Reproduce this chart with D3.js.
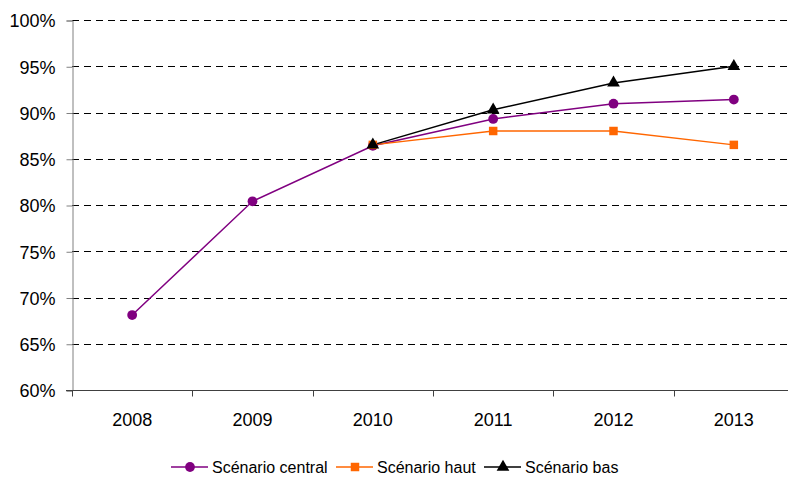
<!DOCTYPE html>
<html lang="fr">
<head>
  <meta charset="UTF-8">
  <title>Scénarios</title>
  <script src="https://d3js.org/d3.v7.min.js"></script>
  <style>
    *{ margin: 0; padding: 0; }
    body{ background: #fff; }
    svg text{ font-family: 'Liberation Sans', Arial, sans-serif; font-size: 18px; fill: #000; }
    .grid line{ stroke: #000; stroke-dasharray: 7,5; shape-rendering: crispEdges; }
    .legend text{ font-size: 16px; }
  </style>
</head>
<body>
  <svg width="788" height="477"></svg>
  <script>
    // données
    var years = ["2008", "2009", "2010", "2011", "2012", "2013"];
    var central = [68.1, 80.4, 86.4, 89.3, 90.95, 91.4];
    var haut = [null, null, 86.5, 88.0, 88.0, 86.5];
    var bas = [null, null, 86.5, 90.3, 93.2, 95.0];
    var yTicks = [60, 65, 70, 75, 80, 85, 90, 95, 100];

    var series = [
      {name: "Scénario central", values: central, color: "#800080", symbol: d3.symbolCircle, size: 75},
      {name: "Scénario haut", values: haut, color: "#ff6600", symbol: d3.symbolSquare, size: 72},
      {name: "Scénario bas", values: bas, color: "#000000", symbol: d3.symbolTriangle, size: 70}
    ];

    var svg = d3.select("svg");
    var pLeft = 72, pTop = 20, pBottom = 390, pRight = 794;

    var x = d3.scaleBand().domain(years).range([pLeft, pRight]);
    var y = d3.scaleLinear().domain([60, 100]).range([pBottom, pTop]);

    // grille
    svg.append("g").attr("class", "grid")
      .selectAll("line").data(yTicks.slice(1)).enter().append("line")
      .attr("x1", pLeft).attr("x2", 788)
      .attr("y1", function(d) { return Math.round(y(d)) + 0.5; })
      .attr("y2", function(d) { return Math.round(y(d)) + 0.5; });

    // axe y
    var yAxis = svg.append("g")
      .attr("transform", "translate(" + (pLeft + 0.5) + ",0.5)")
      .call(d3.axisLeft(y).tickValues(yTicks).tickSize(6).tickPadding(11)
        .tickFormat(function(d) { return d + "%"; }));
    yAxis.select(".domain").attr("stroke", "#808080");
    yAxis.selectAll(".tick line").attr("stroke", "#808080");
    yAxis.selectAll("text").attr("fill", "#000").attr("dy", "0.36em");

    // axe x
    var xAxis = svg.append("g")
      .attr("transform", "translate(0," + (pBottom + 0.5) + ")");
    xAxis.append("line").attr("x1", pLeft - 6).attr("x2", pRight)
      .attr("stroke", "#404040");
    xAxis.selectAll(".tk").data(years.concat(["end"])).enter().append("line")
      .attr("x1", function(d, i) { return Math.round(pLeft + i * x.bandwidth()) + 0.5; })
      .attr("x2", function(d, i) { return Math.round(pLeft + i * x.bandwidth()) + 0.5; })
      .attr("y1", 0).attr("y2", 6).attr("stroke", "#404040");
    xAxis.selectAll("text").data(years).enter().append("text")
      .attr("x", function(d) { return x(d) + x.bandwidth() / 2; })
      .attr("y", 35).attr("text-anchor", "middle").text(function(d) { return d; });

    // courbes
    var line = d3.line()
      .defined(function(d) { return d != null; })
      .x(function(d, i) { return x(years[i]) + x.bandwidth() / 2; })
      .y(function(d) { return y(d); });

    series.forEach(function(s) {
      svg.append("path").datum(s.values)
        .attr("fill", "none").attr("stroke", s.color).attr("stroke-width", 1.5)
        .attr("d", line);
    });
    series.forEach(function(s) {
      svg.append("g").selectAll("path")
        .data(s.values.map(function(v, i) { return {v: v, i: i}; }).filter(function(d) { return d.v != null; }))
        .enter().append("path")
        .attr("d", d3.symbol().type(s.symbol).size(s.size))
        .attr("fill", s.color)
        .attr("transform", function(d) {
          return "translate(" + (x(years[d.i]) + x.bandwidth() / 2) + "," + y(d.v) + ")";
        });
    });

    // légende
    var legX = [171, 336, 484];
    var leg = svg.append("g").attr("class", "legend").selectAll("g").data(series).enter().append("g")
      .attr("transform", function(d, i) { return "translate(" + legX[i] + ",467)"; });
    leg.append("line").attr("x1", 0).attr("x2", 37)
      .attr("stroke", function(d) { return d.color; }).attr("stroke-width", 1.5);
    leg.append("path")
      .attr("d", function(d) { return d3.symbol().type(d.symbol).size(d.size)(); })
      .attr("fill", function(d) { return d.color; })
      .attr("transform", "translate(19,0)");
    leg.append("text").attr("x", 41).attr("y", 6)
      .text(function(d) { return d.name; });
  </script>
</body>
</html>
